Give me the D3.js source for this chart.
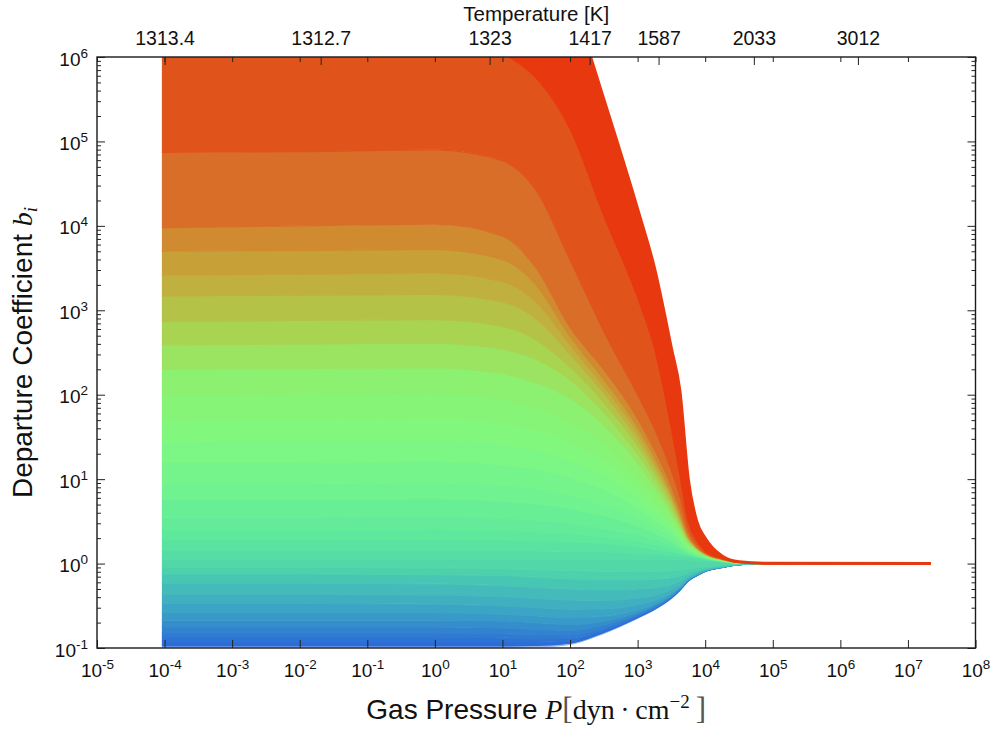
<!DOCTYPE html>
<html><head><meta charset="utf-8">
<script src="https://cdn.jsdelivr.net/npm/d3@7"></script>
<style>body{margin:0;background:#fff} svg{display:block}</style>
</head><body>
<svg id="chart" width="992" height="731"></svg>
<script>
// ---------------- DATA ----------------
// log10 of gas pressure at the sampled depth points
const pressureLog = [-4.04, -2, 0, 1, 1.5, 2, 2.5, 3, 3.25, 3.5, 3.625, 3.75, 3.875, 4, 4.25, 4.5, 5, 7.34];

// log10 of departure coefficient b_i for each level
const lowerLevels = [
  [-0.99,-0.99,-0.99,-0.99,-0.985,-0.955,-0.825,-0.645,-0.545,-0.41,-0.318,-0.206,-0.143,-0.092,-0.046,-0.012,0,0],
  [-0.955,-0.955,-0.955,-0.955,-0.955,-0.94,-0.815,-0.64,-0.54,-0.407,-0.315,-0.204,-0.142,-0.091,-0.045,-0.012,0,0],
  [-0.92,-0.92,-0.92,-0.925,-0.93,-0.915,-0.8,-0.63,-0.532,-0.402,-0.311,-0.202,-0.14,-0.09,-0.045,-0.012,0,0],
  [-0.87,-0.87,-0.87,-0.88,-0.89,-0.88,-0.78,-0.62,-0.525,-0.397,-0.307,-0.2,-0.139,-0.089,-0.044,-0.011,0,0],
  [-0.82,-0.82,-0.82,-0.83,-0.845,-0.845,-0.76,-0.61,-0.518,-0.392,-0.303,-0.197,-0.137,-0.088,-0.044,-0.011,0,0],
  [-0.75,-0.75,-0.75,-0.76,-0.78,-0.79,-0.725,-0.595,-0.507,-0.385,-0.298,-0.194,-0.135,-0.087,-0.043,-0.011,0,0],
  [-0.67,-0.67,-0.67,-0.68,-0.70,-0.72,-0.68,-0.575,-0.493,-0.375,-0.292,-0.191,-0.133,-0.086,-0.043,-0.011,0,0],
  [-0.58,-0.58,-0.58,-0.6,-0.62,-0.64,-0.625,-0.545,-0.475,-0.363,-0.285,-0.187,-0.13,-0.084,-0.042,-0.011,0,0],
  [-0.47,-0.47,-0.48,-0.5,-0.52,-0.54,-0.535,-0.485,-0.435,-0.343,-0.274,-0.181,-0.126,-0.081,-0.04,-0.01,0,0],
  [-0.36,-0.36,-0.37,-0.39,-0.41,-0.43,-0.435,-0.405,-0.375,-0.305,-0.25,-0.17,-0.119,-0.077,-0.038,-0.01,0,0],
  [-0.23,-0.23,-0.24,-0.26,-0.28,-0.3,-0.31,-0.3,-0.285,-0.245,-0.205,-0.147,-0.103,-0.068,-0.034,-0.009,0,0],
  [-0.12,-0.12,-0.13,-0.14,-0.16,-0.18,-0.19,-0.19,-0.183,-0.163,-0.143,-0.112,-0.082,-0.056,-0.028,-0.008,0,0],
  [-0.04,-0.04,-0.05,-0.06,-0.07,-0.08,-0.09,-0.092,-0.09,-0.082,-0.074,-0.062,-0.047,-0.033,-0.017,-0.005,0,0]
];
const greenLevels = [
  [0.05,0.05,0.05,0.05,0.05,0.05,0.05,0.05,0.05,0.05,0.05,0.045,0.04,0.035,0.018,0.005,0,0],
  [0.15,0.15,0.15,0.15,0.15,0.145,0.14,0.12,0.11,0.1,0.09,0.08,0.065,0.05,0.022,0.006,0,0],
  [0.28,0.28,0.28,0.28,0.27,0.26,0.24,0.2,0.17,0.14,0.12,0.1,0.08,0.055,0.025,0.007,0,0],
  [0.4,0.4,0.41,0.395,0.38,0.36,0.32,0.265,0.225,0.18,0.14,0.11,0.085,0.06,0.028,0.008,0,0],
  [0.55,0.55,0.56,0.54,0.52,0.48,0.42,0.34,0.285,0.22,0.17,0.12,0.09,0.065,0.03,0.008,0,0],
  [0.76,0.76,0.77,0.74,0.71,0.65,0.57,0.45,0.365,0.27,0.2,0.14,0.1,0.07,0.03,0.008,0,0],
  [0.95,0.95,0.96,0.93,0.89,0.81,0.7,0.55,0.44,0.32,0.23,0.16,0.11,0.075,0.032,0.009,0,0],
  [1.2,1.2,1.21,1.17,1.12,1.02,0.88,0.67,0.53,0.37,0.27,0.17,0.12,0.08,0.035,0.01,0,0],
  [1.45,1.46,1.46,1.41,1.35,1.22,1.05,0.79,0.62,0.43,0.3,0.19,0.13,0.085,0.037,0.01,0,0],
  [1.7,1.71,1.72,1.66,1.58,1.43,1.22,0.91,0.71,0.48,0.34,0.21,0.14,0.09,0.04,0.011,0,0],
  [2.0,2.01,2.02,1.95,1.85,1.68,1.43,1.04,0.81,0.55,0.38,0.23,0.15,0.095,0.042,0.011,0,0],
  [2.3,2.31,2.32,2.25,2.14,1.96,1.64,1.19,0.91,0.6,0.42,0.25,0.16,0.1,0.045,0.012,0,0]
];
const upperLevels = [
  [2.59,2.6,2.61,2.54,2.42,2.18,1.79,1.3,1.0,0.66,0.46,0.27,0.17,0.11,0.05,0.013,0,0],
  [2.87,2.88,2.89,2.81,2.65,2.33,1.91,1.4,1.08,0.72,0.5,0.29,0.18,0.112,0.05,0.013,0,0],
  [3.17,3.18,3.19,3.1,2.9,2.48,2.02,1.48,1.15,0.77,0.53,0.3,0.185,0.115,0.051,0.014,0,0],
  [3.42,3.43,3.44,3.34,3.1,2.59,2.1,1.55,1.2,0.8,0.56,0.31,0.19,0.117,0.052,0.014,0,0],
  [3.7,3.71,3.72,3.6,3.3,2.69,2.18,1.62,1.26,0.84,0.59,0.32,0.195,0.119,0.053,0.014,0,0],
  [3.98,4.0,4.02,3.88,3.5,2.8,2.3,1.72,1.35,0.92,0.65,0.35,0.2,0.122,0.054,0.015,0,0],
  [4.87,4.88,4.9,4.77,4.42,3.6,2.75,2.0,1.6,1.1,0.8,0.4,0.23,0.13,0.056,0.016,0,0]
];
const redLevels = [
  [6.4,6.4,6.4,6.05,5.75,5.15,4.12,3.15,2.55,1.6,1.05,0.5,0.27,0.15,0.06,0.018,0,0],
  [9,9,9,8.5,7.8,6.75,5.5,4.2,3.5,2.55,2.05,1.0,0.5,0.3,0.09,0.022,0.003,0]
];

const xTickExponents = [-5,-4,-3,-2,-1,0,1,2,3,4,5,6,7,8];
const yTickExponents = [-1,0,1,2,3,4,5,6];
const tempTickLogP = [-4.0, -1.69, 0.81, 2.29, 3.31, 4.72, 6.26];
const tempTickLabels = ["1313.4","1312.7","1323","1417","1587","2033","3012"];

// ---------------- STYLE ----------------
const SANS = "'Liberation Sans', Arial, Helvetica, sans-serif";
const SERIF = "'Liberation Serif', 'DejaVu Serif', serif";
const colorStops = [-0.99,-0.82,-0.67,-0.47,-0.23,-0.04,0.28,0.76,1.35,2.0,2.3,2.59,2.87,3.17,3.42,3.7,3.98,4.87,6.2];
const colorRange = ['#2a68d8','#3282d0','#389ac8','#40b0c0','#48c6b4','#52d8a8','#5ee89c','#70f290','#80f880','#8cf070','#9ae462','#a8d452','#b4c248','#c0b040','#c8a038','#d08a30','#d86e28','#e0541c','#e8380f'];
const color = d3.scaleLinear().domain(colorStops).range(colorRange).clamp(true);

const L = 97, R = 975.5, T = 57, B = 648;
const svg = d3.select('#chart');
const x = d3.scaleLog().domain([1e-5, 1e8]).range([L, R]);
const y = d3.scaleLog().domain([0.1, 1e6]).range([B, T]);

svg.append('defs').append('clipPath').attr('id','clip')
  .append('rect').attr('x',L).attr('y',T).attr('width',R-L).attr('height',B-T);

const allLevels = [...lowerLevels, ...greenLevels, ...upperLevels, ...redLevels];
const series = allLevels.map(vals => vals.map((v,i) => ({p: Math.pow(10, pressureLog[i]), b: Math.pow(10, v)})));

const plot = svg.append('g').attr('clip-path','url(#clip)');

const area = d3.area().x(d => x(d.p)).y0(d => y(d.b0)).y1(d => y(d.b1)).curve(d3.curveMonotoneX);
const line = d3.line().x(d => x(d.p)).y(d => y(d.b)).curve(d3.curveMonotoneX);

for (let i = 0; i < series.length - 1; i++) {
  const band = series[i].map((d,k) => ({p: d.p, b0: d.b, b1: series[i+1][k].b}));
  plot.append('path').attr('d', area(band)).attr('fill', color(allLevels[i][0])).attr('stroke','none');
}
series.forEach((s,i) => {
  plot.append('path').attr('d', line(s)).attr('fill','none')
    .attr('stroke', i === 0 ? '#9ab8ee' : color(allLevels[i][0]))
    .attr('stroke-width', i === series.length - 1 ? 3 : 1.4)
    .attr('stroke-linejoin','round');
});

// ---------------- AXES ----------------
const decades = xTickExponents.map(e => Math.pow(10, e));
const yDecades = yTickExponents.map(e => Math.pow(10, e));
const yMinor = [];
yTickExponents.slice(0, -1).forEach(e => { for (let m = 2; m <= 9; m++) yMinor.push(m * Math.pow(10, e)); });

function styleAxis(g) {
  g.select('.domain').remove();
  g.selectAll('.tick line').attr('stroke','#222').attr('stroke-width',1);
  g.attr('font-family', SANS);
}
function powLabel(g, opts) {
  g.selectAll('.tick text').each(function(d) {
    const t = d3.select(this);
    t.text(null).attr('dy', null).attr('x', opts.x).attr('y', opts.y)
     .attr('fill','#111').style('font-size','19px').style('font-family', SANS);
    t.append('tspan').text('10');
    t.append('tspan').attr('dy', -8).style('font-size','13.5px').text(String(Math.round(Math.log10(d))));
  });
}

const gB = svg.append('g').attr('transform',`translate(0,${B})`)
  .call(d3.axisBottom(x).tickValues(decades).tickSizeInner(-8).tickSizeOuter(0).tickFormat(() => ''));
styleAxis(gB);
powLabel(gB, {x: 0, y: 28.5});
gB.selectAll('.tick text').attr('text-anchor','middle');

const gT = svg.append('g').attr('transform',`translate(0,${T})`)
  .call(d3.axisTop(x).tickValues(decades).tickSizeInner(-5).tickSizeOuter(0).tickFormat(() => ''));
styleAxis(gT);
const gT2 = svg.append('g').attr('transform',`translate(0,${T})`)
  .call(d3.axisTop(x).tickValues(tempTickLogP.map(v => Math.pow(10, v))).tickSizeInner(-8).tickSizeOuter(0)
    .tickFormat((d,i) => tempTickLabels[i]));
styleAxis(gT2);
gT2.selectAll('.tick text').attr('y', -12).attr('dy', null).attr('fill','#111')
  .style('font-size','19.5px').style('font-family', SANS);

const gL = svg.append('g').attr('transform',`translate(${L},0)`)
  .call(d3.axisLeft(y).tickValues(yDecades).tickSizeInner(-8).tickSizeOuter(0).tickFormat(() => ''));
styleAxis(gL);
powLabel(gL, {x: -9, y: 8});
gL.selectAll('.tick text').attr('text-anchor','end');
const gLm = svg.append('g').attr('transform',`translate(${L},0)`)
  .call(d3.axisLeft(y).tickValues(yMinor).tickSizeInner(-4).tickSizeOuter(0).tickFormat(() => ''));
styleAxis(gLm);

const gR = svg.append('g').attr('transform',`translate(${R},0)`)
  .call(d3.axisRight(y).tickValues(yDecades).tickSizeInner(-8).tickSizeOuter(0).tickFormat(() => ''));
styleAxis(gR);
const gRm = svg.append('g').attr('transform',`translate(${R},0)`)
  .call(d3.axisRight(y).tickValues(yMinor).tickSizeInner(-4).tickSizeOuter(0).tickFormat(() => ''));
styleAxis(gRm);

svg.append('rect').attr('x',L).attr('y',T).attr('width',R-L).attr('height',B-T)
  .attr('fill','none').attr('stroke','#1a1a1a').attr('stroke-width',1.4);

// ---------------- TITLES ----------------
svg.append('text').attr('x',(L+R)/2).attr('y',21).attr('text-anchor','middle')
  .style('font-family',SANS).style('font-size','20.5px').attr('fill','#111').text('Temperature [K]');

const yl = svg.append('text').attr('transform',`translate(32,${(T+B)/2}) rotate(-90)`).attr('text-anchor','middle')
  .style('font-family',SANS).style('font-size','28px').attr('fill','#111');
yl.append('tspan').text('Departure Coefficient ');
yl.append('tspan').style('font-family',SERIF).style('font-style','italic').text('b');
yl.append('tspan').attr('dy',5).style('font-family',SERIF).style('font-style','italic').style('font-size','19px').text('i');

const xl = svg.append('text').attr('x',(L+R)/2).attr('y',719).attr('text-anchor','middle')
  .style('font-family',SANS).style('font-size','28px').attr('fill','#111');
xl.append('tspan').text('Gas Pressure ');
xl.append('tspan').style('font-family',SERIF).style('font-style','italic').text('P');
xl.append('tspan').style('font-family',SERIF).style('font-size','31px').style('fill','#555').text('[');
xl.append('tspan').style('font-family',SERIF).text('dyn\u2009·\u2009cm');
xl.append('tspan').attr('dy',-11).style('font-family',SERIF).style('font-size','19px').text('\u22122');
xl.append('tspan').attr('dy',11).style('font-family',SERIF).style('font-size','31px').style('fill','#555').text('\u2009]');
</script>
</body></html>
